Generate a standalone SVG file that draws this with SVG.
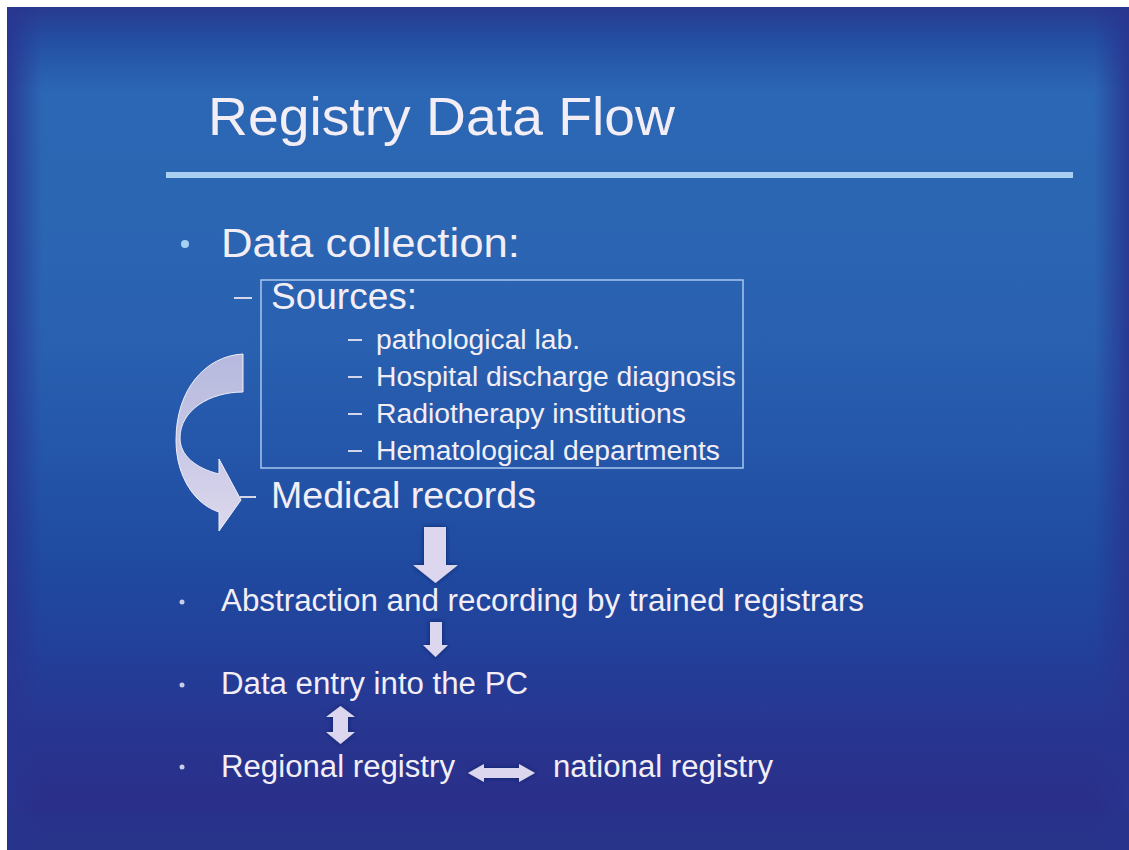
<svg xmlns="http://www.w3.org/2000/svg" width="1129" height="850" viewBox="0 0 1129 850">
<defs>
<linearGradient id="bg" x1="0" y1="0" x2="0" y2="1">
<stop offset="0" stop-color="#283a8f"/>
<stop offset="0.04" stop-color="#244fa3"/>
<stop offset="0.1" stop-color="#2b67b4"/>
<stop offset="0.25" stop-color="#2b66b3"/>
<stop offset="0.4" stop-color="#2960b0"/>
<stop offset="0.55" stop-color="#2354a8"/>
<stop offset="0.66" stop-color="#1f4aa0"/>
<stop offset="0.76" stop-color="#22409a"/>
<stop offset="0.85" stop-color="#273691"/>
<stop offset="0.95" stop-color="#2a2f89"/>
<stop offset="1" stop-color="#28338b"/>
</linearGradient>
<linearGradient id="edgeL" x1="0" y1="0" x2="1" y2="0">
<stop offset="0" stop-color="#283590" stop-opacity="0.9"/>
<stop offset="1" stop-color="#283590" stop-opacity="0"/>
</linearGradient>
<linearGradient id="edgeR" x1="1" y1="0" x2="0" y2="0">
<stop offset="0" stop-color="#283590" stop-opacity="0.9"/>
<stop offset="1" stop-color="#283590" stop-opacity="0"/>
</linearGradient>
<linearGradient id="curveFill" x1="0" y1="0" x2="0" y2="1">
<stop offset="0" stop-color="#cfc9e6" stop-opacity="0.85"/>
<stop offset="1" stop-color="#e2ddf0" stop-opacity="0.97"/>
</linearGradient>
<filter id="shadow" x="-30%" y="-30%" width="160%" height="160%">
<feDropShadow dx="0" dy="0" stdDeviation="2" flood-color="#0e1a5c" flood-opacity="0.85"/>
</filter>
</defs>
<style>
text { font-family: "Liberation Sans", Arial, sans-serif; fill: #f3eef5; }
.title { font-size: 54px; }
.l1 { font-size: 41px; }
.l2 { font-size: 37px; }
.l3 { font-size: 27px; }
.b { font-size: 31px; }
.arrow { fill: #dcd7ee; filter: url(#shadow); }
.dash { stroke: #e8e4f2; stroke-width: 1.8; }
</style>
<rect x="0" y="0" width="1129" height="850" fill="#ffffff"/>
<rect x="7" y="7" width="1122" height="843" fill="url(#bg)"/>
<rect x="7" y="7" width="35" height="843" fill="url(#edgeL)"/>
<rect x="1094" y="7" width="35" height="843" fill="url(#edgeR)"/>
<rect x="7" y="812" width="1122" height="38" fill="#28338b" opacity="0.6"/>

<g id="title">
<text class="title" x="208" y="135" textLength="467" lengthAdjust="spacingAndGlyphs">Registry Data Flow</text>
<rect x="166" y="172" width="907" height="6" fill="#a9d0f1"/>
</g>

<g id="data-collection">
<circle cx="185" cy="244" r="4" fill="#a3d2f2"/>
<text class="l1" x="221" y="257" textLength="299" lengthAdjust="spacingAndGlyphs">Data collection:</text>
</g>

<g id="sources">
<rect x="261" y="280" width="482" height="188" fill="none" stroke="#a8c6ee" stroke-width="1.5"/>
<line class="dash" x1="234" y1="298" x2="252" y2="298"/>
<text class="l2" x="271" y="309" textLength="146" lengthAdjust="spacingAndGlyphs">Sources:</text>
<line class="dash" x1="348" y1="340" x2="362" y2="340"/>
<text class="l3" x="376" y="349" textLength="204" lengthAdjust="spacingAndGlyphs">pathological lab.</text>
<line class="dash" x1="348" y1="377" x2="362" y2="377"/>
<text class="l3" x="376" y="386" textLength="360" lengthAdjust="spacingAndGlyphs">Hospital discharge diagnosis</text>
<line class="dash" x1="348" y1="414" x2="362" y2="414"/>
<text class="l3" x="376" y="423" textLength="310" lengthAdjust="spacingAndGlyphs">Radiotherapy institutions</text>
<line class="dash" x1="348" y1="451" x2="362" y2="451"/>
<text class="l3" x="376" y="460" textLength="344" lengthAdjust="spacingAndGlyphs">Hematological departments</text>
</g>

<g id="medical-records">
<line class="dash" x1="240" y1="497" x2="256" y2="497"/>
<text class="l2" x="271" y="508" textLength="265" lengthAdjust="spacingAndGlyphs">Medical records</text>
</g>

<g id="abstraction">
<circle cx="182" cy="602" r="2.5" fill="#c8cdea"/>
<text class="b" x="221" y="611" textLength="643" lengthAdjust="spacingAndGlyphs">Abstraction and recording by trained registrars</text>
</g>

<g id="data-entry">
<circle cx="182" cy="685" r="2.5" fill="#c8cdea"/>
<text class="b" x="221" y="694" textLength="307" lengthAdjust="spacingAndGlyphs">Data entry into the PC</text>
</g>

<g id="regional">
<circle cx="182" cy="767" r="2.5" fill="#c8cdea"/>
<text class="b" x="221" y="777" textLength="234" lengthAdjust="spacingAndGlyphs">Regional registry</text>
</g>

<g id="national">
<text class="b" x="553" y="777" textLength="220" lengthAdjust="spacingAndGlyphs">national registry</text>
</g>

<g id="connectors">
<path d="M243,354 C205,356 176,390 176,440 C176,478 196,505 219,512 L219,531 L241,500 L219,459 L219,474 C195,468 180,455 180,438 C180,410 210,392 243,392 Z" fill="url(#curveFill)" stroke="#f0eefa" stroke-width="1"/>
<polygon class="arrow" points="424,527 446,527 446,565 458,565 435.5,583 413,565 424,565"/>
<polygon class="arrow" points="430,622 442,622 442,645 448,645 435.5,657 423,645 430,645"/>
<polygon class="arrow" points="340.5,706 355,717 348,717 348,732 355,732 340.5,744 326,732 333,732 333,717 326,717"/>
<polygon class="arrow" points="468,773 484,764 484,768 519,768 519,764 535,773 519,782 519,778 484,778 484,782"/>
</g>
</svg>
